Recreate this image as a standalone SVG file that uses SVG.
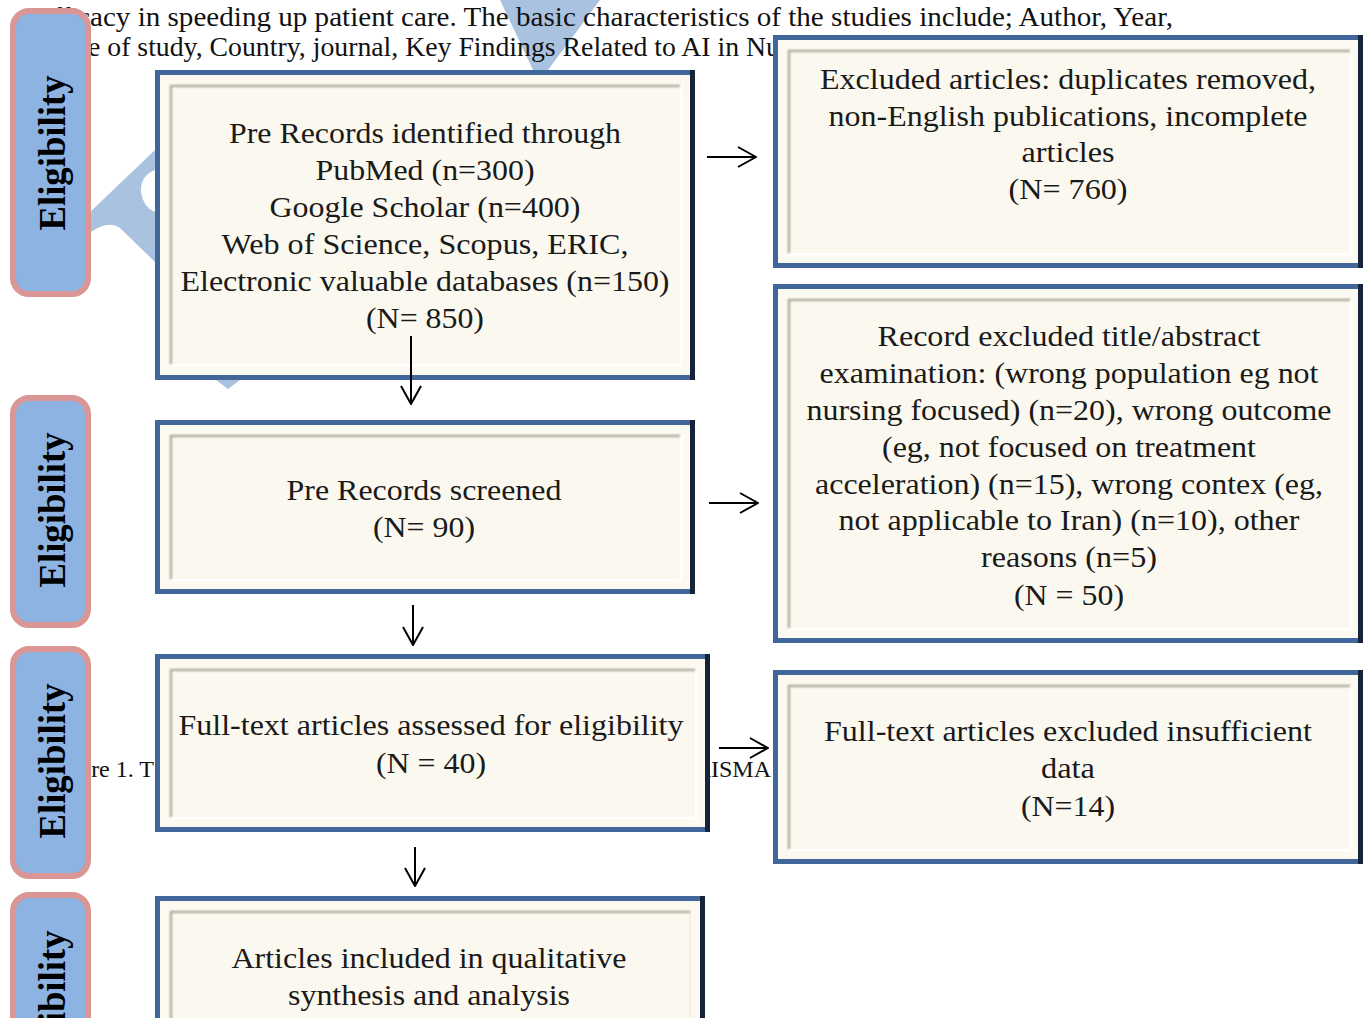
<svg xmlns="http://www.w3.org/2000/svg" width="1365" height="1018" viewBox="0 0 1365 1018">
<style>
  .bg { font-family: "Liberation Serif", "Times New Roman", serif; font-size: 27px; fill: #111; }
  .cap { font-family: "Liberation Serif", "Times New Roman", serif; font-size: 24px; fill: #111; }
  .wm { fill: #a9c2df; }
  .pill { fill: #8db3e2; stroke: #d99694; stroke-width: 6; }
  .el { font-family: "Liberation Serif", "Times New Roman", serif; font-weight: bold; font-size: 37px; fill: #000; text-anchor: middle; }
  .frame { fill: #fcfaf0; stroke: #41679a; stroke-width: 5; }
  .rb { stroke: #16243a; stroke-width: 5; fill: none; }
  .panel { fill: #fbf9ef; stroke: #ebe8dc; stroke-width: 1; }
  .shade { fill: none; stroke: #a6a395; stroke-width: 2; filter: url(#blur); }
  .hi { fill: none; stroke: #ffffff; stroke-width: 3; }
  .t { font-family: "Liberation Serif", "Times New Roman", serif; font-size: 30px; fill: #1a1a1a; text-anchor: middle; }
  .conn { stroke: #000; stroke-width: 2; fill: none; marker-end: url(#ah); }
</style>
<defs>
  <filter id="blur" x="-5%" y="-5%" width="110%" height="110%"><feGaussianBlur stdDeviation="0.8"/></filter>
  <marker id="ah" viewBox="0 0 20 24" refX="19" refY="12" markerWidth="20" markerHeight="24" markerUnits="userSpaceOnUse" orient="auto">
    <path d="M1,2 L19,12 L1,22" fill="none" stroke="#000" stroke-width="2"/>
  </marker>
</defs>
<rect width="1365" height="1018" fill="#ffffff"/>

<!-- watermark -->
<g id="watermark">
  <path class="wm" d="M500,0 L600,0 L548,70 L533,70 Z"/>
  <path class="wm" d="M88,214 L155,150 L155,170 Q140,176 141,192 Q143,207 155,212 L155,262 L120,228 Q108,219 88,234 Z"/>
  <path class="wm" d="M216,380 L240,380 L228,389 Z"/>
</g>

<!-- background document text -->
<g id="background-text">
  <text class="bg" x="90" y="26" text-anchor="end">effic</text>
  <text class="bg" x="90" y="26" textLength="1083" lengthAdjust="spacingAndGlyphs">acy in speeding up patient care. The basic characteristics of the studies include; Author, Year,</text>
  <text class="bg" x="88" y="56" textLength="692" lengthAdjust="spacingAndGlyphs">e of study, Country, journal, Key Findings Related to AI in Nu</text>
  <text class="cap" x="154" y="777" text-anchor="end">Figure 1. T</text>
  <text class="cap" x="771" y="777" text-anchor="end">PRISMA</text>
</g>

<!-- stage labels -->
<g id="stage1"><rect class="pill" x="13" y="11" width="75" height="283" rx="16"/><text class="el" transform="translate(65,153) rotate(-90)" textLength="155" lengthAdjust="spacingAndGlyphs">Eligibility</text></g>
<g id="stage2"><rect class="pill" x="13" y="398" width="75" height="227" rx="16"/><text class="el" transform="translate(65,510) rotate(-90)" textLength="155" lengthAdjust="spacingAndGlyphs">Eligibility</text></g>
<g id="stage3"><rect class="pill" x="13" y="649" width="75" height="227" rx="16"/><text class="el" transform="translate(65,761) rotate(-90)" textLength="155" lengthAdjust="spacingAndGlyphs">Eligibility</text></g>
<g id="stage4"><rect class="pill" x="13" y="895" width="75" height="235" rx="16"/><text class="el" transform="translate(65,1008) rotate(-90)" textLength="155" lengthAdjust="spacingAndGlyphs">Eligibility</text></g>

<!-- boxes -->
<g id="identified">
  <rect class="frame" x="157.5" y="72.5" width="535" height="305"/>
  <path class="rb" d="M692.5,70 V380"/>
  <rect class="panel" x="170" y="85" width="510" height="279"/>
  <path class="hi" d="M170,365 H681 V85"/>
  <path class="shade" d="M171,364 V86 H680"/>
  <text class="t" x="425" y="143" textLength="392" lengthAdjust="spacingAndGlyphs">Pre Records identified through</text>
  <text class="t" x="425" y="180" textLength="219" lengthAdjust="spacingAndGlyphs">PubMed (n=300)</text>
  <text class="t" x="425" y="217" textLength="311" lengthAdjust="spacingAndGlyphs">Google Scholar (n=400)</text>
  <text class="t" x="425" y="254" textLength="407" lengthAdjust="spacingAndGlyphs">Web of Science, Scopus, ERIC,</text>
  <text class="t" x="425" y="291" textLength="489" lengthAdjust="spacingAndGlyphs">Electronic valuable databases (n=150)</text>
  <text class="t" x="425" y="328" textLength="118" lengthAdjust="spacingAndGlyphs">(N= 850)</text>
</g>

<g id="screened">
  <rect class="frame" x="157.5" y="422.5" width="535" height="169"/>
  <path class="rb" d="M692.5,420 V594"/>
  <rect class="panel" x="170" y="435" width="510" height="144"/>
  <path class="hi" d="M170,580 H681 V435"/>
  <path class="shade" d="M171,579 V436 H680"/>
  <text class="t" x="424" y="500" textLength="275" lengthAdjust="spacingAndGlyphs">Pre Records screened</text>
  <text class="t" x="424" y="537" textLength="102" lengthAdjust="spacingAndGlyphs">(N= 90)</text>
</g>

<g id="fulltext">
  <rect class="frame" x="157.5" y="656.5" width="550" height="173"/>
  <path class="rb" d="M707.5,654 V832"/>
  <rect class="panel" x="170" y="669" width="525" height="148"/>
  <path class="hi" d="M170,818 H696 V669"/>
  <path class="shade" d="M171,817 V670 H695"/>
  <text class="t" x="431" y="735" textLength="505" lengthAdjust="spacingAndGlyphs">Full-text articles assessed for eligibility</text>
  <text class="t" x="431" y="773" textLength="110" lengthAdjust="spacingAndGlyphs">(N = 40)</text>
</g>

<g id="included">
  <rect class="frame" x="157.5" y="898.5" width="545" height="150"/>
  <path class="rb" d="M702.5,896 V1050"/>
  <rect class="panel" x="170" y="911" width="520" height="140"/>
  <path class="shade" d="M171,1050 V912 H690"/>
  <text class="t" x="429" y="968" textLength="395" lengthAdjust="spacingAndGlyphs">Articles included in qualitative</text>
  <text class="t" x="429" y="1005" textLength="282" lengthAdjust="spacingAndGlyphs">synthesis and analysis</text>
</g>

<g id="excluded-dup">
  <rect class="frame" x="775.5" y="37.5" width="585" height="228"/>
  <path class="rb" d="M1360.5,35 V268"/>
  <rect class="panel" x="788" y="50" width="562" height="203"/>
  <path class="hi" d="M788,254 H1351 V50"/>
  <path class="shade" d="M789,253 V51 H1350"/>
  <text class="t" x="1068" y="89" textLength="496" lengthAdjust="spacingAndGlyphs">Excluded articles: duplicates removed,</text>
  <text class="t" x="1068" y="126" textLength="479" lengthAdjust="spacingAndGlyphs">non-English publications, incomplete</text>
  <text class="t" x="1068" y="162" textLength="93" lengthAdjust="spacingAndGlyphs">articles</text>
  <text class="t" x="1068" y="199" textLength="119" lengthAdjust="spacingAndGlyphs">(N= 760)</text>
</g>

<g id="excluded-title">
  <rect class="frame" x="775.5" y="286.5" width="585" height="354"/>
  <path class="rb" d="M1360.5,284 V643"/>
  <rect class="panel" x="788" y="299" width="562" height="329"/>
  <path class="hi" d="M788,629 H1351 V299"/>
  <path class="shade" d="M789,628 V300 H1350"/>
  <text class="t" x="1069" y="346" textLength="383" lengthAdjust="spacingAndGlyphs">Record excluded title/abstract</text>
  <text class="t" x="1069" y="383" textLength="499" lengthAdjust="spacingAndGlyphs">examination: (wrong population eg not</text>
  <text class="t" x="1069" y="420" textLength="525" lengthAdjust="spacingAndGlyphs">nursing focused) (n=20), wrong outcome</text>
  <text class="t" x="1069" y="457" textLength="374" lengthAdjust="spacingAndGlyphs">(eg, not focused on treatment</text>
  <text class="t" x="1069" y="494" textLength="508" lengthAdjust="spacingAndGlyphs">acceleration) (n=15), wrong contex (eg,</text>
  <text class="t" x="1069" y="530" textLength="461" lengthAdjust="spacingAndGlyphs">not applicable to Iran) (n=10), other</text>
  <text class="t" x="1069" y="567" textLength="176" lengthAdjust="spacingAndGlyphs">reasons (n=5)</text>
  <text class="t" x="1069" y="605" textLength="110" lengthAdjust="spacingAndGlyphs">(N = 50)</text>
</g>

<g id="excluded-fulltext">
  <rect class="frame" x="775.5" y="672.5" width="585" height="189"/>
  <path class="rb" d="M1360.5,670 V864"/>
  <rect class="panel" x="788" y="685" width="562" height="164"/>
  <path class="hi" d="M788,850 H1351 V685"/>
  <path class="shade" d="M789,849 V686 H1350"/>
  <text class="t" x="1068" y="741" textLength="488" lengthAdjust="spacingAndGlyphs">Full-text articles excluded insufficient</text>
  <text class="t" x="1068" y="778" textLength="54" lengthAdjust="spacingAndGlyphs">data</text>
  <text class="t" x="1068" y="816" textLength="94" lengthAdjust="spacingAndGlyphs">(N=14)</text>
</g>

<!-- connectors -->
<g id="connectors">
  <path class="conn" d="M411,336 V404"/>
  <path class="conn" d="M413,605 V645"/>
  <path class="conn" d="M415,847 V886"/>
  <path class="conn" d="M707,157 H756"/>
  <path class="conn" d="M709,503 H758"/>
  <path class="conn" d="M719,748 H768"/>
</g>
</svg>
